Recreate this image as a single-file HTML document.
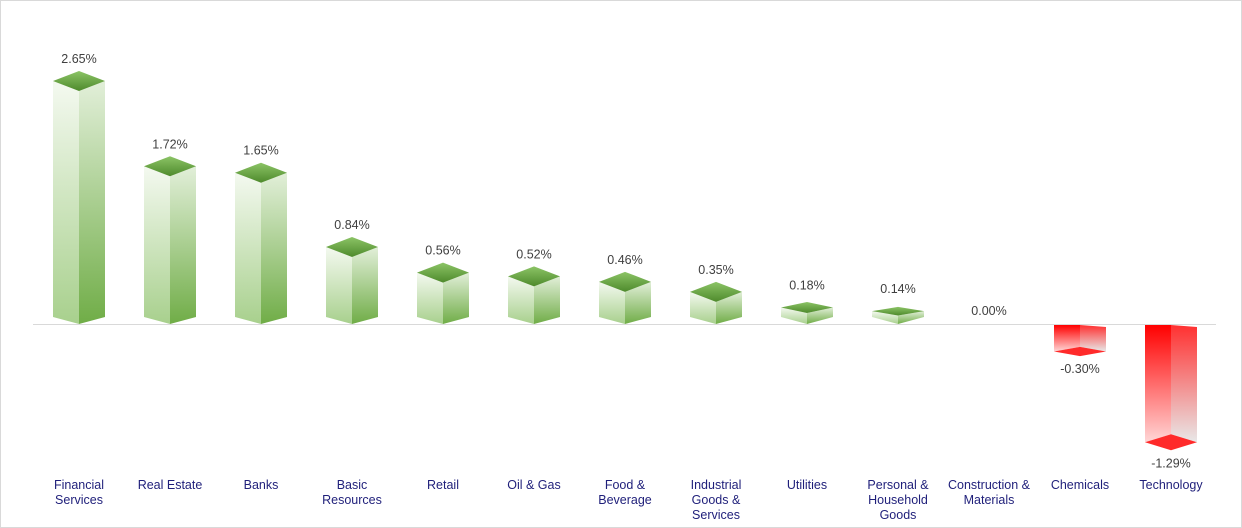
<!DOCTYPE html>
<html><head><meta charset="utf-8"><style>
html,body{margin:0;padding:0;background:#fff}
svg{display:block;font-family:"Liberation Sans",sans-serif}
</style></head><body>
<svg width="1242" height="528" viewBox="0 0 1242 528">
<defs>
<linearGradient id="gl" x1="0" y1="0" x2="0" y2="1"><stop offset="0" stop-color="#f4f9f0"/><stop offset="1" stop-color="#a8d08d"/></linearGradient>
<linearGradient id="gr" x1="0" y1="0" x2="0" y2="1"><stop offset="0" stop-color="#e2efd9"/><stop offset="1" stop-color="#70ad47"/></linearGradient>
<linearGradient id="gt" x1="0" y1="0" x2="0" y2="1"><stop offset="0" stop-color="#8cc466"/><stop offset="1" stop-color="#4e8a2c"/></linearGradient>
<linearGradient id="rl" x1="0" y1="0" x2="0" y2="1"><stop offset="0" stop-color="#ff0000"/><stop offset="1" stop-color="#ffd6d6"/></linearGradient>
<linearGradient id="rr" x1="0" y1="0" x2="0" y2="1"><stop offset="0" stop-color="#ff3030"/><stop offset="1" stop-color="#e8e8e8"/></linearGradient>
</defs>
<rect x="0.5" y="0.5" width="1241" height="527" fill="#fff" stroke="#d9d9d9"/>
<line x1="33" y1="324.5" x2="1216" y2="324.5" stroke="#d9d9d9"/>
<g id="bars"></g>
<g font-size="12.5" fill="#404040" text-anchor="middle" id="vals"></g>
<g font-size="12.5" fill="#1f1f7a" text-anchor="middle" id="cats"></g>
</svg>
<script>
var d=[["2.65%",2.65,["Financial","Services"]],["1.72%",1.72,["Real Estate"]],["1.65%",1.65,["Banks"]],["0.84%",0.84,["Basic","Resources"]],["0.56%",0.56,["Retail"]],["0.52%",0.52,["Oil & Gas"]],["0.46%",0.46,["Food &","Beverage"]],["0.35%",0.35,["Industrial","Goods &","Services"]],["0.18%",0.18,["Utilities"]],["0.14%",0.14,["Personal &","Household","Goods"]],["0.00%",0,["Construction &","Materials"]],["-0.30%",-0.30,["Chemicals"]],["-1.29%",-1.29,["Technology"]]];
var ns="http://www.w3.org/2000/svg",B=document.getElementById("bars"),V=document.getElementById("vals"),C=document.getElementById("cats");
function p(pts,f){var e=document.createElementNS(ns,"polygon");e.setAttribute("points",pts);e.setAttribute("fill",f);B.appendChild(e);}
function t(g,x,y,s){var e=document.createElementNS(ns,"text");e.setAttribute("x",x);e.setAttribute("y",y);e.textContent=s;g.appendChild(e);}
var Z=324,S=91.7,h=26;
d.forEach(function(r,i){var c=79+91*i,v=r[1];
 if(v>0){var ty=Z-v*S;var dy=Math.min(10,v*S/3);
  p((c-h)+","+ty+" "+c+","+(ty+dy)+" "+c+","+Z+" "+(c-h)+","+(Z-7),"url(#gl)");
  p(c+","+(ty+dy)+" "+(c+h)+","+ty+" "+(c+h)+","+(Z-7)+" "+c+","+Z,"url(#gr)");
  p((c-h)+","+ty+" "+c+","+(ty-dy)+" "+(c+h)+","+ty+" "+c+","+(ty+dy),"url(#gt)");
  t(V,c,ty-18,r[0]);
 } else if(v<0){var by=Z-v*S;var dy=Math.min(8,-v*S/6);
  p((c-h)+","+(Z+1)+" "+c+","+(Z+1)+" "+c+","+(by-dy)+" "+(c-h)+","+by,"url(#rl)");
  p(c+","+(Z+1)+" "+(c+h)+","+(Z+3)+" "+(c+h)+","+by+" "+c+","+(by-dy),"url(#rr)");
  p((c-h)+","+by+" "+c+","+(by-dy)+" "+(c+h)+","+by+" "+c+","+(by+dy),"#ff2a2a");
  t(V,c,by+dy+17,r[0]);
 } else t(V,c,315,r[0]);
 r[2].forEach(function(s,j){t(C,c,489+15*j,s);});
});
</script>
</body></html>
